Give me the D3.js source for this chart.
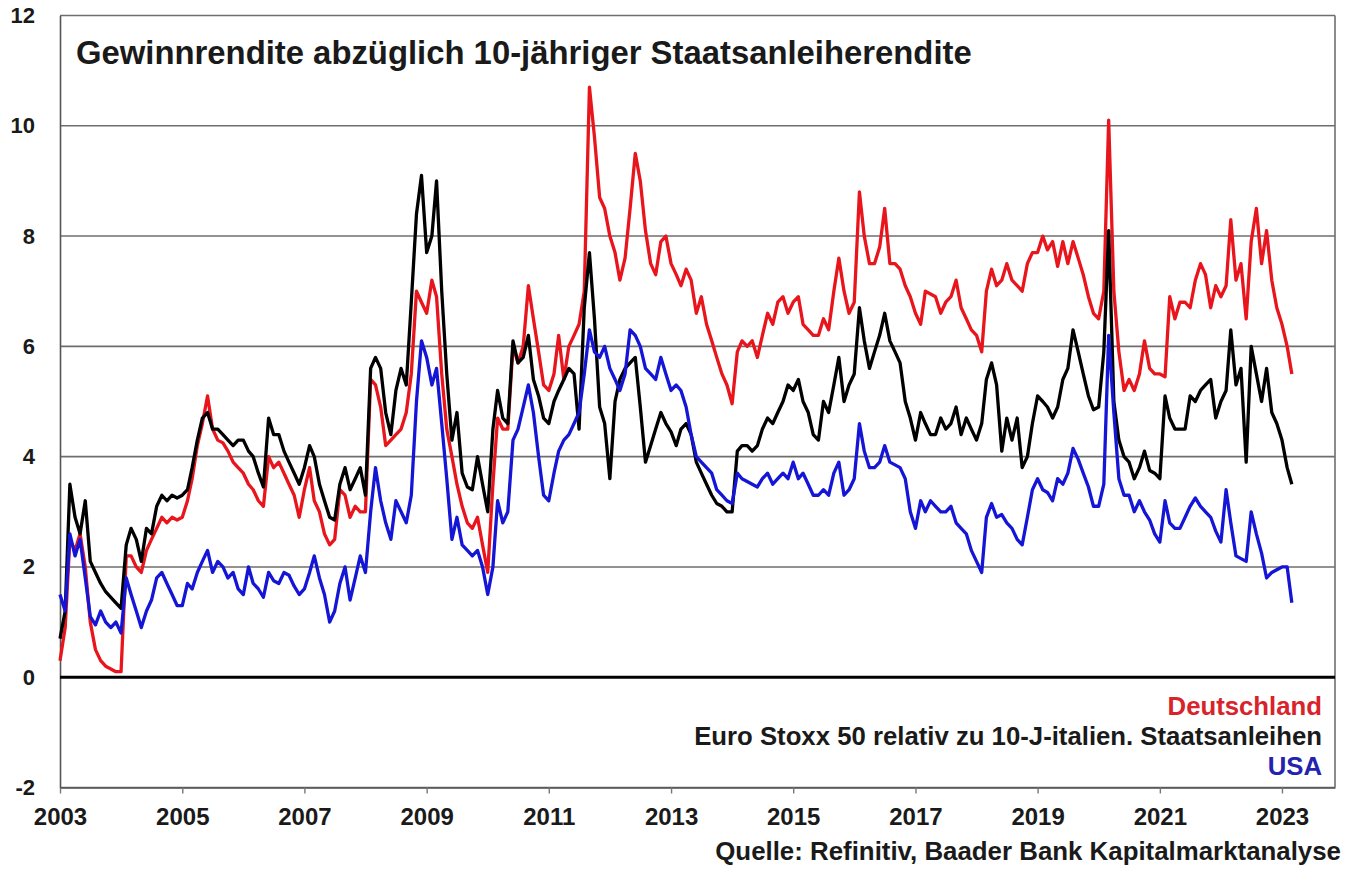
<!DOCTYPE html>
<html><head><meta charset="utf-8">
<script src="https://cdn.jsdelivr.net/npm/d3@7"></script>
<style>
body{margin:0;background:#fff}
svg{display:block}
text{font-family:"Liberation Sans",Arial,sans-serif;font-weight:bold;fill:#1a1a1a}
</style>
</head><body>
<svg id="chart" width="1359" height="869"></svg>
<script>
// ---------- data (monthly readings, first value = Jan 2003) ----------
const firstMonth = [2003, 0];
const deutschland = [
 0.3,0.9,2.5,2.3,2.6,2.0,1.0,0.5,0.3,0.2,0.15,0.1,
 0.1,2.2,2.2,2.0,1.9,2.3,2.5,2.7,2.9,2.8,2.9,2.85,
 2.9,3.2,3.6,4.2,4.6,5.1,4.5,4.3,4.25,4.1,3.9,3.8,
 3.7,3.5,3.4,3.2,3.1,4.0,3.8,3.9,3.7,3.5,3.3,2.9,
 3.4,3.8,3.2,3.0,2.6,2.4,2.5,3.4,3.3,2.9,3.1,3.0,
 3.0,5.4,5.3,4.9,4.2,4.3,4.4,4.5,4.8,5.5,7.0,6.8,
 6.6,7.2,6.9,5.5,4.5,4.0,3.5,3.1,2.8,2.7,2.9,2.4,
 1.9,3.5,4.7,4.5,4.5,6.0,5.7,6.0,7.1,6.5,5.9,5.3,
 5.2,5.5,6.2,5.4,6.0,6.2,6.4,7.0,10.7,9.8,8.7,8.5,
 8.0,7.7,7.2,7.6,8.5,9.5,9.0,8.1,7.5,7.3,7.9,8.0,
 7.5,7.3,7.1,7.4,7.2,6.6,6.9,6.4,6.1,5.8,5.5,5.3,
 4.96,5.9,6.1,6.0,6.1,5.8,6.2,6.6,6.4,6.8,6.9,6.6,
 6.8,6.9,6.4,6.3,6.2,6.2,6.5,6.3,7.0,7.6,7.0,6.6,
 6.8,8.8,8.0,7.5,7.5,7.8,8.5,7.5,7.5,7.4,7.1,6.9,
 6.6,6.4,7.0,6.95,6.9,6.6,6.8,6.9,7.2,6.7,6.5,6.3,
 6.2,5.9,7.0,7.4,7.1,7.2,7.5,7.2,7.1,7.0,7.5,7.7,
 7.7,8.0,7.75,7.9,7.45,7.9,7.5,7.9,7.6,7.3,6.9,6.6,
 6.5,7.0,10.1,7.0,5.9,5.2,5.4,5.2,5.5,6.1,5.6,5.5,
 5.5,5.45,6.9,6.5,6.8,6.8,6.7,7.2,7.5,7.3,6.7,7.1,
 6.9,7.1,8.3,7.2,7.5,6.5,7.9,8.5,7.5,8.1,7.2,6.7,
 6.4,6.0,5.5
];
const euroStoxx = [
 0.7,1.2,3.5,2.9,2.6,3.2,2.1,1.9,1.7,1.55,1.45,1.35,
 1.25,2.4,2.7,2.5,2.1,2.7,2.6,3.1,3.3,3.2,3.3,3.25,
 3.3,3.4,3.8,4.3,4.7,4.8,4.5,4.5,4.4,4.3,4.2,4.3,
 4.3,4.1,4.0,3.7,3.45,4.7,4.4,4.4,4.1,3.9,3.7,3.5,
 3.8,4.2,4.0,3.5,3.2,2.9,2.85,3.5,3.8,3.4,3.6,3.8,
 3.3,5.6,5.8,5.6,4.8,4.4,5.2,5.6,5.3,6.8,8.4,9.1,
 7.7,8.0,9.0,7.0,5.5,4.3,4.8,3.7,3.45,3.4,4.0,3.5,
 3.0,4.5,5.2,4.7,4.6,6.1,5.7,5.8,6.2,5.4,5.1,4.7,
 4.6,5.0,5.2,5.4,5.6,5.5,4.5,6.7,7.7,6.5,4.9,4.6,
 3.6,5.0,5.4,5.6,5.7,5.8,4.9,3.9,4.2,4.5,4.8,4.6,
 4.45,4.2,4.5,4.6,4.4,3.9,3.7,3.5,3.3,3.15,3.1,3.0,
 3.0,4.1,4.2,4.2,4.1,4.2,4.5,4.7,4.6,4.8,5.0,5.3,
 5.2,5.4,5.0,4.8,4.4,4.3,5.0,4.8,5.3,5.8,5.0,5.3,
 5.5,6.7,6.1,5.6,5.9,6.2,6.6,6.1,5.9,5.7,5.0,4.7,
 4.3,4.8,4.6,4.4,4.4,4.7,4.5,4.6,4.9,4.4,4.7,4.5,
 4.3,4.6,5.4,5.7,5.3,4.1,4.7,4.3,4.7,3.8,4.0,4.6,
 5.1,5.0,4.9,4.7,4.9,5.4,5.6,6.3,5.9,5.5,5.1,4.85,
 4.9,5.9,8.1,5.0,4.3,4.0,3.9,3.6,3.8,4.1,3.75,3.7,
 3.6,5.1,4.7,4.5,4.5,4.5,5.1,5.0,5.2,5.3,5.4,4.7,
 5.0,5.2,6.3,5.3,5.6,3.9,6.0,5.5,5.0,5.6,4.8,4.6,
 4.3,3.8,3.5
];
const usa = [
 1.5,1.2,2.6,2.2,2.5,1.8,1.1,0.95,1.2,1.0,0.9,1.0,
 0.8,1.8,1.5,1.2,0.9,1.2,1.4,1.8,1.9,1.7,1.5,1.3,
 1.3,1.7,1.6,1.9,2.1,2.3,1.9,2.1,2.0,1.8,1.9,1.6,
 1.5,2.0,1.7,1.6,1.45,1.9,1.75,1.7,1.9,1.85,1.65,1.5,
 1.6,1.9,2.2,1.8,1.5,1.0,1.2,1.7,2.0,1.4,1.8,2.2,
 1.9,3.0,3.8,3.2,2.8,2.5,3.2,3.0,2.8,3.3,5.0,6.1,
 5.8,5.3,5.6,4.6,3.6,2.5,2.9,2.4,2.3,2.2,2.3,2.0,
 1.5,2.0,3.2,2.8,3.0,4.3,4.5,4.9,5.3,4.8,4.0,3.3,
 3.2,3.7,4.1,4.3,4.4,4.6,4.8,5.5,6.3,5.9,5.8,6.0,
 5.6,5.4,5.2,5.5,6.3,6.2,6.0,5.6,5.5,5.4,5.8,5.5,
 5.2,5.3,5.2,4.9,4.4,4.0,3.9,3.8,3.7,3.4,3.3,3.2,
 3.15,3.7,3.6,3.55,3.5,3.45,3.6,3.7,3.5,3.6,3.7,3.6,
 3.9,3.6,3.7,3.5,3.3,3.3,3.4,3.3,3.7,3.9,3.3,3.4,
 3.6,4.6,4.1,3.8,3.8,3.9,4.2,3.9,3.85,3.8,3.6,3.0,
 2.7,3.2,3.0,3.2,3.1,3.0,3.0,3.1,2.8,2.7,2.6,2.3,
 2.1,1.9,2.9,3.15,2.9,2.95,2.8,2.7,2.5,2.4,2.9,3.4,
 3.6,3.4,3.35,3.2,3.6,3.5,3.7,4.15,3.95,3.7,3.45,3.1,
 3.1,3.5,6.2,4.8,3.6,3.3,3.3,3.0,3.2,3.0,2.85,2.6,
 2.45,3.2,2.8,2.7,2.7,2.9,3.1,3.25,3.1,3.0,2.9,2.65,
 2.45,3.4,2.8,2.2,2.15,2.1,3.0,2.6,2.25,1.8,1.9,1.95,
 2.0,2.0,1.35
];
const yTicks = [-2, 0, 2, 4, 6, 8, 10, 12];
const xTickYears = [2003, 2005, 2007, 2009, 2011, 2013, 2015, 2017, 2019, 2021, 2023];
const titleText = "Gewinnrendite abzüglich 10-jähriger Staatsanleiherendite";
const seriesNames = ["Deutschland", "Euro Stoxx 50 relativ zu 10-J-italien. Staatsanleihen", "USA"];
const seriesColors = ["#e8151c", "#000000", "#1515d6"];
const legendColors = ["#d8232a", "#1a1a1a", "#2323b0"];
const sourceText = "Quelle: Refinitiv, Baader Bank Kapitalmarktanalyse";

// ---------- layout ----------
const svg = d3.select("#chart");
const L = 60, R = 1335, T = 15.5, B = 787.5;

const months = d3.timeMonth.range(new Date(firstMonth[0], firstMonth[1], 1),
                                   new Date(firstMonth[0], firstMonth[1] + deutschland.length, 1));

const x = d3.scaleTime().domain([new Date(2003, 0, 1), new Date(2023, 10, 14)]).range([L, R]);
const y = d3.scaleLinear().domain([-2, 12]).range([B, T]);

// gridlines
svg.append("g").selectAll("line").data(yTicks.filter(d => d !== 0)).join("line")
  .attr("x1", L).attr("x2", R).attr("y1", d => y(d)).attr("y2", d => y(d))
  .attr("stroke", "#6e6e6e").attr("stroke-width", 1.6);

// right border
svg.append("line").attr("x1", R).attr("x2", R).attr("y1", T).attr("y2", B)
  .attr("stroke", "#6e6e6e").attr("stroke-width", 1.6);

// x axis (bottom)
const xAxis = d3.axisBottom(x)
  .tickValues(xTickYears.map(yr => new Date(yr, 0, 1)))
  .tickFormat(d3.timeFormat("%Y"))
  .tickSize(6).tickSizeOuter(0).tickPadding(14);
const gx = svg.append("g").attr("transform", `translate(0,${B})`).call(xAxis);
gx.select(".domain").attr("stroke", "#555").attr("stroke-width", 1.6);
gx.selectAll(".tick line").attr("stroke", "#777").attr("stroke-width", 1.4);
gx.selectAll(".tick text").attr("font-size", 24).attr("font-family", null).attr("fill", "#1a1a1a");

// y axis (left)
const yAxis = d3.axisLeft(y).tickValues(yTicks).tickFormat(d => String(d))
  .tickSize(0).tickPadding(25).tickSizeOuter(0);
const gy = svg.append("g").attr("transform", `translate(${L},0)`).call(yAxis);
gy.select(".domain").attr("stroke", "#555").attr("stroke-width", 1.6);
gy.selectAll(".tick text").attr("font-size", 22).attr("font-family", null).attr("fill", "#1a1a1a");

// zero line
svg.append("line").attr("x1", L).attr("x2", R).attr("y1", y(0)).attr("y2", y(0))
  .attr("stroke", "#000").attr("stroke-width", 3);

// series
const line = d3.line().x((d, i) => x(months[i])).y(d => y(d));
[deutschland, euroStoxx, usa].forEach((vals, k) => {
  svg.append("path").datum(vals)
    .attr("d", line)
    .attr("fill", "none")
    .attr("stroke", seriesColors[k])
    .attr("stroke-width", 3.3)
    .attr("stroke-linejoin", "round");
});

// title
const title = svg.append("text").attr("x", 76).attr("y", 64).attr("font-size", 27).text(titleText);
function fit(sel, target) {
  const fs = +sel.attr("font-size");
  const w = sel.node().getComputedTextLength();
  sel.attr("font-size", (fs * target / w).toFixed(2));
}
fit(title, 896);

// legend
const legendY = [715, 745, 775];
const leg = svg.append("g").selectAll("text").data(seriesNames).join("text")
  .attr("x", 1322).attr("y", (d, i) => legendY[i])
  .attr("text-anchor", "end").attr("font-size", 24)
  .style("fill", (d, i) => legendColors[i])
  .text(d => d);
const mid = leg.filter((d, i) => i === 1);
fit(mid, 628);
leg.attr("font-size", mid.attr("font-size"));

// source
const src = svg.append("text").attr("x", 1341).attr("y", 860).attr("text-anchor", "end")
  .attr("font-size", 24).text(sourceText);
fit(src, 626);
</script>
</body></html>
